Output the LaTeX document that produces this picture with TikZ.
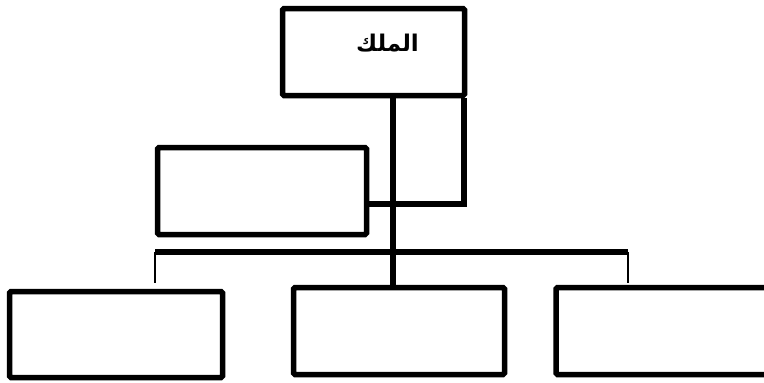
\documentclass[tikz,border=0pt]{standalone}
\usepackage{fontspec}
\newfontfamily\arabicfont[Script=Arabic]{DejaVu Sans}
\TeXXeTstate=1
\begin{document}
\begin{tikzpicture}[x=1pt,y=-1pt,
   box/.style={draw,line width=5.5pt,rounded corners=1.5pt,fill=white,inner sep=0pt},
   bar/.style={line width=5.5pt},
   tick/.style={line width=1.3pt}]
   \useasboundingbox (0,0) rectangle (764,383);
   \node[box,minimum width=182,minimum height=87,text depth=18pt] (king) at (373.5,52)
     {\arabicfont\bfseries\fontsize{23}{27}\selectfont\hspace*{28pt}\beginR الملك\endR};
   \node[box,minimum width=209,minimum height=87] (deputy) at (262,191) {};
   \node[box,minimum width=213,minimum height=86] (left) at (116,334.5) {};
   \node[box,minimum width=211,minimum height=87] (mid) at (399,331) {};
   \node[box,minimum width=216,minimum height=87] (right) at (664,331) {};
   \coordinate (busl) at (155,252);
   \coordinate (busr) at (628,252);
   \coordinate (tickl) at (155,283);
   \coordinate (tickr) at (628,283);
   \draw[bar] (busl) -- (busr);
   \draw[tick] (busl) -- (tickl);
   \draw[tick] (busr) -- (tickr);
   \draw[bar] ([xshift=19.5]king.south) -- ([xshift=-6]mid.north);
   \draw[bar] ([xshift=90.5]king.south) |- ([yshift=-13]deputy.east);
\end{tikzpicture}
\end{document}
